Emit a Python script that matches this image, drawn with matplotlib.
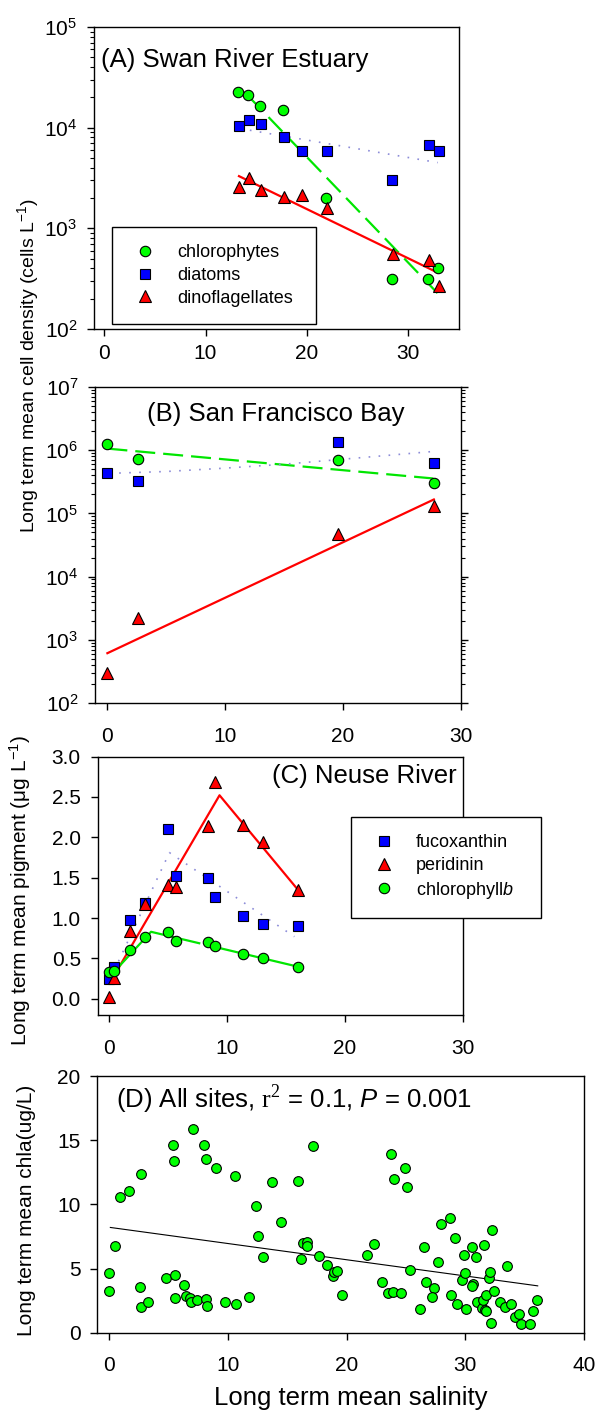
import matplotlib
matplotlib.use('Agg')
import matplotlib.pyplot as plt

plt.rcParams['font.family'] = ['Liberation Sans', 'DejaVu Sans']
plt.rcParams['mathtext.fontset'] = 'custom'
plt.rcParams['mathtext.rm'] = 'Liberation Sans'
plt.rcParams['mathtext.it'] = 'Liberation Sans:italic'
plt.rcParams['mathtext.sf'] = 'Liberation Serif'

# (A) Swan River Estuary, cells per litre
swan_chloro_sal = [13.2, 14.2, 15.4, 17.6, 21.9, 28.4, 31.9, 32.9]
swan_chloro = [22600, 21000, 16500, 15000, 2000, 316, 314, 400]
swan_diatom_sal = [13.3, 14.3, 15.5, 17.7, 19.5, 22.0, 28.4, 32.0, 33.0]
swan_diatom = [10400, 11800, 10800, 8000, 5900, 5800, 3050, 6800, 5850]
swan_dino_sal = [13.3, 14.3, 15.5, 17.7, 19.5, 22.0, 28.5, 32.0, 33.0]
swan_dino = [2600, 3150, 2400, 2050, 2150, 1600, 560, 490, 270]
# trend lines as drawn in the figure
swan_chloro_fit_sal = [14.3, 32.9]
swan_chloro_fit = [20200, 226]
swan_diatom_fit_sal = [13.4, 32.9]
swan_diatom_fit = [9800, 4500]
swan_dino_fit_sal = [13.3, 32.9]
swan_dino_fit = [3300, 363]

# (B) San Francisco Bay
sf_sal = [0.05, 2.6, 19.6, 27.7]
sf_chloro = [1.27e6, 7.2e5, 7.0e5, 3.0e5]
sf_diatom = [4.4e5, 3.3e5, 1.37e6, 6.2e5]
sf_dino = [300, 2250, 4.66e4, 1.3e5]
sf_chloro_fit_sal = [0.05, 27.65]
sf_chloro_fit = [1.06e6, 3.57e5]
sf_diatom_fit_sal = [0.2, 5, 10, 15, 20, 27.5]
sf_diatom_fit = [4.3e5, 4.6e5, 5.2e5, 6.0e5, 7.2e5, 9.5e5]
sf_dino_fit_sal = [0.05, 27.7]
sf_dino_fit = [614, 1.66e5]

# (C) Neuse River pigments, ug/L
neuse_sal = [0.0, 0.4, 1.75, 3.05, 5.0, 5.7, 8.4, 8.95, 11.35, 13.05, 16.0]
fuco = [0.24, 0.40, 0.97, 1.19, 2.10, 1.52, 1.50, 1.26, 1.03, 0.93, 0.90]
peri = [0.02, 0.26, 0.84, 1.18, 1.41, 1.39, 2.14, 2.68, 2.15, 1.94, 1.35]
chlb = [0.33, 0.35, 0.60, 0.76, 0.83, 0.72, 0.70, 0.65, 0.55, 0.51, 0.40]
fuco_fit_sal = [0.06, 5.1, 15.7]
fuco_fit = [0.24, 1.81, 0.77]
peri_fit_sal = [0.06, 9.35, 16.03]
peri_fit = [0.20, 2.52, 1.345]
chlb_fit_sal = [0.06, 3.54, 15.95]
chlb_fit = [0.28, 0.83, 0.40]

# (D) all sites, chla vs salinity
all_sal = [0.0, 0.0, 0.46, 0.89, 1.67, 2.57, 2.71, 2.71, 3.28, 4.82,
           5.39, 5.44, 5.53, 5.53, 6.32, 6.51, 6.79, 6.93, 7.07, 7.44,
           7.97, 8.14, 8.14, 8.2, 9.04, 9.75, 10.59, 10.65, 11.77, 12.36,
           12.56, 12.93, 13.69, 14.47, 15.93, 16.13, 16.36, 16.7, 16.64, 17.15,
           17.7, 18.35, 18.89, 18.97, 19.17, 19.6, 21.76, 22.35, 22.97, 23.53,
           23.73, 23.87, 24.01, 24.57, 24.94, 25.1, 25.3, 26.2, 26.54, 26.71,
           27.33, 27.22, 27.66, 27.95, 28.68, 28.8, 29.1, 29.32, 29.72, 29.89,
           29.97, 30.06, 30.53, 30.65, 30.59, 30.9, 30.99, 31.41, 31.52, 31.55,
           31.63, 31.71, 31.77, 32.0, 32.11, 32.19, 32.22, 32.45, 32.93, 33.38,
           33.52, 33.85, 34.22, 34.56, 34.73, 35.43, 35.68, 36.08]
all_chla = [4.65, 3.27, 6.78, 10.54, 11.06, 3.53, 12.33, 1.98, 2.37, 4.26,
            14.6, 13.4, 4.47, 2.68, 3.71, 2.86, 2.73, 2.42, 15.89, 2.55,
            14.6, 13.5, 2.62, 2.1, 12.85, 2.39, 12.2, 2.21, 2.78, 9.87,
            7.55, 5.9, 11.76, 8.65, 11.81, 5.71, 7.01, 7.09, 6.75, 14.57,
            5.97, 5.3, 4.44, 4.75, 4.8, 2.96, 6.03, 6.88, 3.97, 3.07,
            13.89, 3.19, 11.97, 3.12, 12.8, 11.37, 4.86, 1.87, 6.65, 3.97,
            3.46, 2.78, 5.53, 8.47, 8.93, 2.94, 7.4, 2.21, 4.1, 6.03,
            4.67, 1.85, 6.65, 3.79, 3.66, 5.9, 2.39, 1.9, 2.57, 6.83,
            1.77, 1.71, 2.94, 4.23, 4.7, 0.78, 8.0, 3.27, 2.42, 2.03,
            5.17, 2.24, 1.25, 1.48, 0.68, 0.65, 1.71, 2.52]
all_fit_sal = [0.1, 36.1]
all_fit = [8.2, 3.65]

W, H = 597, 1411
GREEN, BLUE, RED = '#00FF00', '#0000FF', '#FF0000'
LINE_GREEN = '#00E600'
DOT_BLUE = '#8C8CD8'
TICK_FS = 15
TITLE_FS = 18.5
LEG_FS = 13

fig = plt.figure(figsize=(W / 100, H / 100), dpi=100)


def add_ax(left, top, right, bottom):
    # box given in pixels from the top-left corner of the figure
    return fig.add_axes([left / W, 1 - bottom / H, (right - left) / W, (bottom - top) / H])


def style_ax(ax, xpad=12):
    for s in ax.spines.values():
        s.set_linewidth(1.0)
    ax.tick_params(which='major', direction='out', length=5, width=1.0,
                   labelsize=TICK_FS, top=False, right=False)
    ax.tick_params(which='minor', direction='out', length=3, width=0.8,
                   top=False, right=False)
    ax.tick_params(axis='y', which='major', pad=7)
    ax.tick_params(axis='x', which='major', pad=xpad)


def figtext(x, y, s, **kw):
    fig.text(x / W, 1 - y / H, s, **kw)


mk = dict(ls='none', markeredgecolor='black', markeredgewidth=0.8, zorder=3)
circ = dict(marker='o', markerfacecolor=GREEN, markersize=7.5, **mk)
sq = dict(marker='s', markerfacecolor=BLUE, markersize=7.5, **mk)
tri = dict(marker='^', markerfacecolor=RED, markersize=8.5, **mk)
dash_green = dict(color=LINE_GREEN, lw=1.6, dashes=(9, 3.6), zorder=2)
dot_blue = dict(color=DOT_BLUE, lw=1.2, ls=(0, (1, 5)), zorder=2)
solid_red = dict(color=RED, lw=1.6, zorder=2)


def add_legend(ax, handles, labels, left, top, width, height):
    leg = ax.legend(handles, labels, loc='upper left', mode='expand',
                    bbox_to_anchor=(left / W, 1 - (top + height) / H, width / W, height / H),
                    bbox_transform=fig.transFigure, borderaxespad=0, fontsize=LEG_FS,
                    numpoints=1, handlelength=1.75, handletextpad=0.9, borderpad=0.95,
                    labelspacing=0.32, fancybox=False, framealpha=1, edgecolor='black')
    leg.get_frame().set_linewidth(1.0)
    return leg


# ---- (A) ----
axA = add_ax(94, 27, 459, 329)
axA.plot(swan_chloro_fit_sal, swan_chloro_fit, **dash_green)
axA.plot(swan_diatom_fit_sal, swan_diatom_fit, **dot_blue)
axA.plot(swan_dino_fit_sal, swan_dino_fit, **solid_red)
hc, = axA.plot(swan_chloro_sal, swan_chloro, **circ)
hd, = axA.plot(swan_diatom_sal, swan_diatom, **sq)
hf, = axA.plot(swan_dino_sal, swan_dino, **tri)
axA.set_yscale('log')
axA.set_ylim(1e2, 1e5)
axA.set_xlim(-1, 35)
axA.set_xticks([0, 10, 20, 30])
style_ax(axA, xpad=6)
add_legend(axA, [hc, hd, hf], ['chlorophytes', 'diatoms', 'dinoflagellates'],
           112, 227, 204, 93)
figtext(101, 60, '(A) Swan River Estuary', fontsize=TITLE_FS, ha='left', va='center')

# ---- (B) ----
axB = add_ax(95, 387, 461, 703)
axB.plot(sf_chloro_fit_sal, sf_chloro_fit, **dash_green)
axB.plot(sf_diatom_fit_sal, sf_diatom_fit, **dot_blue)
axB.plot(sf_dino_fit_sal, sf_dino_fit, **solid_red)
axB.plot(sf_sal, sf_chloro, **circ)
axB.plot(sf_sal, sf_diatom, **sq)
axB.plot(sf_sal, sf_dino, **tri)
axB.set_yscale('log')
axB.set_ylim(1e2, 1e7)
axB.set_xlim(-1, 30)
axB.set_xticks([0, 10, 20, 30])
style_ax(axB)
axB.tick_params(axis='y', which='both', right=True)
figtext(276, 414, '(B) San Francisco Bay', fontsize=TITLE_FS, ha='center', va='center')

figtext(28, 366, 'Long term mean cell density (cells L$^{-1}$)', fontsize=14,
        rotation=90, ha='center', va='center')

# ---- (C) ----
axC = add_ax(97.5, 756.5, 463, 1015)
axC.plot(fuco_fit_sal, fuco_fit, **dot_blue)
axC.plot(peri_fit_sal, peri_fit, **solid_red)
axC.plot(chlb_fit_sal, chlb_fit, color=LINE_GREEN, lw=1.6, dashes=(50, 4), zorder=2)
h1, = axC.plot(neuse_sal, fuco, **sq)
h2, = axC.plot(neuse_sal, peri, **tri)
h3, = axC.plot(neuse_sal, chlb, **circ)
axC.set_ylim(-0.2, 3.0)
axC.set_yticks([0.0, 0.5, 1.0, 1.5, 2.0, 2.5, 3.0])
axC.set_yticklabels(['0.0', '0.5', '1.0', '1.5', '2.0', '2.5', '3.0'])
axC.set_xlim(-1, 30)
axC.set_xticks([0, 10, 20, 30])
style_ax(axC)
add_legend(axC, [h1, h2, h3], ['fucoxanthin', 'peridinin', r'chlorophyll$\it{b}$'],
           351, 817, 190, 93)
figtext(457, 776, '(C) Neuse River', fontsize=TITLE_FS, ha='right', va='center')
figtext(20, 891, r'Long term mean pigment ($\mathrm{\mu}$g L$^{-1}$)', fontsize=15,
        rotation=90, ha='center', va='center')

# ---- (D) ----
axD = add_ax(97.3, 1076, 584, 1332.7)
axD.plot(all_fit_sal, all_fit, color='black', lw=0.8, zorder=2)
axD.plot(all_sal, all_chla, marker='o', markerfacecolor=GREEN, ls='none',
         markeredgecolor='black', markeredgewidth=0.8, markersize=7, zorder=3)
axD.set_ylim(0, 20)
axD.set_yticks([0, 5, 10, 15, 20])
axD.set_xlim(-1, 40)
axD.set_xticks([0, 10, 20, 30, 40])
style_ax(axD)
figtext(116, 1100, r'(D) All sites, $\mathsf{r}^{\mathsf{2}}$ = 0.1, $\it{P}$ = 0.001',
        fontsize=TITLE_FS, ha='left', va='center')
figtext(27, 1210, 'Long term mean chla(ug/L)', fontsize=15, rotation=90,
        ha='center', va='center')
figtext(351, 1398, 'Long term mean salinity', fontsize=18.5, ha='center', va='center')

fig.savefig('out.png', dpi=100)
